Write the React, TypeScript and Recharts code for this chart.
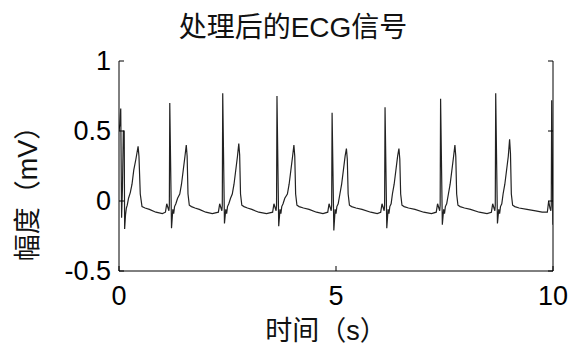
import React from "react";
import { LineChart, Line, XAxis, YAxis, Customized } from "recharts";

// ECG trace: [time s, amplitude mV]
const beat1: [number, number][] = [
  [0, 0.5], [0.02, 0.55], [0.04, 0.66], [0.06, -0.12], [0.08, 0.1], [0.1, 0.5], [0.12, 0.5],
  [0.13, -0.2], [0.15, -0.1], [0.17, -0.05], [0.19, -0.03], [0.22, 0.02], [0.26, 0.06],
  [0.3, 0.12], [0.34, 0.22], [0.39, 0.3], [0.44, 0.39], [0.46, 0.32], [0.49, 0.05],
  [0.53, -0.04], [0.6, -0.05], [0.7, -0.06], [0.85, -0.08], [1.0, -0.09],
];
const beat2: [number, number][] = [
  [1.07, -0.08], [1.1, -0.02], [1.13, -0.05], [1.15, -0.07], [1.16, -0.03], [1.17, 0.7],
  [1.21, -0.195], [1.24, -0.06], [1.26, -0.09], [1.28, -0.04], [1.31, -0.02], [1.35, 0.02],
  [1.4, 0.05], [1.44, 0.12], [1.48, 0.22], [1.52, 0.32], [1.55, 0.4], [1.57, 0.32],
  [1.59, 0.05], [1.62, -0.03], [1.67, -0.04], [1.75, -0.05], [1.85, -0.06], [2.0, -0.08],
  [2.15, -0.09],
];
const beat3: [number, number][] = [
  [2.29, -0.08], [2.32, -0.02], [2.35, -0.05], [2.37, -0.07], [2.38, -0.03], [2.39, 0.77],
  [2.43, -0.16], [2.46, -0.06], [2.48, -0.09], [2.5, -0.04], [2.53, -0.02], [2.57, 0.02],
  [2.61, 0.05], [2.65, 0.12], [2.69, 0.22], [2.73, 0.32], [2.76, 0.41], [2.78, 0.33],
  [2.8, 0.05], [2.83, -0.03], [2.88, -0.04], [2.96, -0.05], [3.06, -0.06], [3.22, -0.08],
  [3.4, -0.09],
];
const beat4: [number, number][] = [
  [3.54, -0.08], [3.57, -0.02], [3.6, -0.05], [3.62, -0.07], [3.63, -0.03], [3.64, 0.75],
  [3.68, -0.18], [3.71, -0.06], [3.73, -0.09], [3.75, -0.04], [3.78, -0.02], [3.82, 0.02],
  [3.88, 0.05], [3.92, 0.12], [3.96, 0.22], [4.0, 0.32], [4.03, 0.4], [4.05, 0.32],
  [4.07, 0.05], [4.1, -0.03], [4.15, -0.04], [4.25, -0.05], [4.38, -0.06], [4.55, -0.08],
  [4.7, -0.09],
];
const beat5: [number, number][] = [
  [4.81, -0.08], [4.84, -0.02], [4.87, -0.05], [4.89, -0.07], [4.9, -0.03], [4.91, 0.63],
  [4.95, -0.21], [4.98, -0.06], [5.0, -0.09], [5.02, -0.04], [5.05, -0.02], [5.09, 0.05],
  [5.13, 0.12], [5.17, 0.22], [5.21, 0.32], [5.24, 0.375], [5.26, 0.3], [5.28, 0.05],
  [5.31, -0.03], [5.36, -0.04], [5.46, -0.05], [5.6, -0.06], [5.8, -0.08], [5.95, -0.09],
];
const beat6: [number, number][] = [
  [6.03, -0.08], [6.06, -0.02], [6.09, -0.05], [6.11, -0.07], [6.12, -0.03], [6.13, 0.67],
  [6.17, -0.195], [6.2, -0.06], [6.22, -0.09], [6.24, -0.04], [6.27, -0.02], [6.3, 0.05],
  [6.34, 0.12], [6.38, 0.22], [6.42, 0.32], [6.45, 0.375], [6.47, 0.3], [6.49, 0.05],
  [6.52, -0.03], [6.57, -0.04], [6.67, -0.05], [6.82, -0.06], [7.02, -0.08], [7.2, -0.09],
];
const beat7: [number, number][] = [
  [7.31, -0.08], [7.34, -0.02], [7.37, -0.05], [7.39, -0.07], [7.4, -0.03], [7.41, 0.73],
  [7.45, -0.17], [7.48, -0.06], [7.5, -0.09], [7.52, -0.04], [7.55, -0.02], [7.59, 0.05],
  [7.63, 0.12], [7.67, 0.22], [7.71, 0.32], [7.74, 0.4], [7.76, 0.32], [7.78, 0.05],
  [7.81, -0.03], [7.86, -0.04], [7.96, -0.05], [8.1, -0.06], [8.3, -0.08], [8.48, -0.09],
];
const beat8: [number, number][] = [
  [8.58, -0.08], [8.61, -0.02], [8.64, -0.05], [8.66, -0.07], [8.67, -0.03], [8.68, 0.77],
  [8.72, -0.16], [8.75, -0.06], [8.77, -0.09], [8.79, -0.04], [8.82, -0.02], [8.85, 0.05],
  [8.89, 0.12], [8.93, 0.22], [8.97, 0.32], [9.0, 0.44], [9.02, 0.34], [9.04, 0.05],
  [9.07, -0.03], [9.12, -0.04], [9.22, -0.05], [9.4, -0.06], [9.6, -0.07], [9.75, -0.08],
];
const beat9: [number, number][] = [
  [9.87, -0.08], [9.9, 0.0], [9.93, -0.05], [9.95, -0.07], [9.96, -0.03], [9.97, 0.72],
  [10.0, -0.17],
];

const xTicks = [0, 5, 10];
const yTicks = [-0.5, 0, 0.5, 1];

const FONT = "'Liberation Sans', Arial, 'Noto Sans CJK SC', sans-serif";

const data = [beat1, beat2, beat3, beat4, beat5, beat6, beat7, beat8, beat9]
  .flat()
  .map(([t, v]) => ({ t, v }));

function BottomTick({ x, y, payload }: any) {
  return (
    <g>
      <line x1={x} y1={y} x2={x} y2={y - 5} stroke="#000" />
      <text x={x} y={y + 34} textAnchor="middle" fontSize={27} fontFamily={FONT} fill="#000">
        {payload.value}
      </text>
    </g>
  );
}

function TopTick({ x, y }: any) {
  return <line x1={x} y1={y} x2={x} y2={y + 5} stroke="#000" />;
}

function LeftTick({ x, y, payload }: any) {
  return (
    <g>
      <line x1={x} y1={y} x2={x + 5} y2={y} stroke="#000" />
      <text x={x - 8} y={y + 9} textAnchor="end" fontSize={27} fontFamily={FONT} fill="#000">
        {payload.value}
      </text>
    </g>
  );
}

function RightTick({ x, y }: any) {
  return <line x1={x} y1={y} x2={x - 5} y2={y} stroke="#000" />;
}

function Labels() {
  return (
    <g fontFamily={FONT} fill="#111">
      <text x={293} y={37} textAnchor="middle" fontSize={28}>
        处理后的ECG信号
      </text>
      <text x={326} y={340} textAnchor="middle" fontSize={27}>
        时间（s）
      </text>
      <text
        x={0}
        y={0}
        transform="translate(37 187) rotate(-90)"
        textAnchor="middle"
        fontSize={27}
      >
        幅度（mV）
      </text>
    </g>
  );
}

export default function App() {
  return (
    <div style={{ position: "absolute", left: 0, top: 0, width: 587, height: 355, background: "#fff" }}>
      <LineChart width={587} height={355} data={data} margin={{ top: 61, right: 33, bottom: 0, left: 0 }}>
        <XAxis
          xAxisId="b"
          type="number"
          dataKey="t"
          domain={[0, 10]}
          ticks={xTicks}
          interval={0}
          height={84}
          tickSize={0}
          tickMargin={0}
          tickLine={false}
          axisLine={{ stroke: "#000" }}
          tick={<BottomTick />}
          allowDataOverflow
        />
        <XAxis
          xAxisId="t"
          orientation="top"
          type="number"
          dataKey="t"
          domain={[0, 10]}
          ticks={xTicks}
          interval={0}
          height={0}
          tickSize={0}
          tickMargin={0}
          tickLine={false}
          axisLine={{ stroke: "#000" }}
          tick={<TopTick />}
          allowDataOverflow
        />
        <YAxis
          yAxisId="l"
          type="number"
          domain={[-0.5, 1]}
          ticks={yTicks}
          interval={0}
          width={119}
          tickSize={0}
          tickMargin={0}
          tickLine={false}
          axisLine={{ stroke: "#000" }}
          tick={<LeftTick />}
          allowDataOverflow
        />
        <YAxis
          yAxisId="r"
          orientation="right"
          type="number"
          domain={[-0.5, 1]}
          ticks={yTicks}
          interval={0}
          width={1}
          tickSize={0}
          tickMargin={0}
          tickLine={false}
          axisLine={{ stroke: "#000" }}
          tick={<RightTick />}
          allowDataOverflow
        />
        <Line
          xAxisId="b"
          yAxisId="l"
          type="linear"
          dataKey="v"
          stroke="#222"
          strokeWidth={1.2}
          dot={false}
          isAnimationActive={false}
        />
        <Customized component={Labels} />
      </LineChart>
    </div>
  );
}
